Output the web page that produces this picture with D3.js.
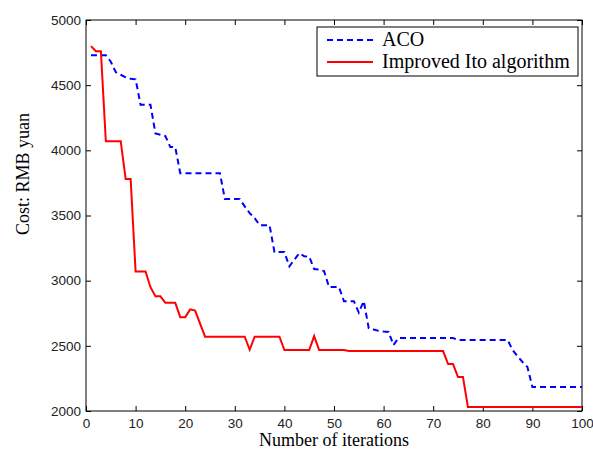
<!DOCTYPE html>
<html>
<head>
<meta charset="utf-8">
<script src="https://cdn.jsdelivr.net/npm/d3@7/dist/d3.min.js"></script>
<style>
  body { margin: 0; background: #fff; }
  .tick text { font-family: "Liberation Sans", Arial, sans-serif; font-size: 13.5px; fill: #222; }
  .tick line { stroke: #000; }
</style>
</head>
<body>
<div id="chart"></div>
<script>
"use strict";

// iterations 1..100
var iterations = d3.range(1, 101);

var acoCost = [
  4730, 4730, 4730, 4730, 4680, 4600, 4580, 4560, 4550, 4545,
  4350, 4350, 4350, 4130, 4120, 4110, 4025, 4025, 3825, 3825,
  3825, 3825, 3825, 3825, 3825, 3825, 3825, 3626, 3626, 3626,
  3626, 3570, 3518, 3480, 3426, 3426, 3426, 3219, 3219, 3219,
  3110, 3160, 3211, 3188, 3185, 3089, 3085, 3073, 2951, 2951,
  2951, 2843, 2843, 2843, 2755, 2843, 2636, 2625, 2615, 2610,
  2606, 2506, 2560, 2560, 2560, 2560, 2560, 2560, 2560, 2560,
  2560, 2560, 2560, 2560, 2545, 2545, 2545, 2545, 2545, 2545,
  2545, 2545, 2545, 2545, 2545, 2468, 2420, 2376, 2337, 2184,
  2184, 2184, 2184, 2184, 2184, 2184, 2184, 2184, 2184, 2184
];

var itoCost = [
  4800, 4760, 4760, 4070, 4070, 4070, 4070, 3780, 3780, 3070,
  3070, 3070, 2950, 2880, 2880, 2830, 2830, 2830, 2720, 2720,
  2780, 2770, 2670, 2570, 2570, 2570, 2570, 2570, 2570, 2570,
  2570, 2570, 2470, 2570, 2570, 2570, 2570, 2570, 2570, 2468,
  2468, 2468, 2468, 2468, 2468, 2575, 2468, 2468, 2468, 2468,
  2468, 2468, 2460, 2460, 2460, 2460, 2460, 2460, 2460, 2460,
  2460, 2460, 2460, 2460, 2460, 2460, 2460, 2460, 2460, 2460,
  2460, 2460, 2360, 2360, 2260, 2260, 2030, 2030, 2030, 2030,
  2030, 2030, 2030, 2030, 2030, 2030, 2030, 2030, 2030, 2030,
  2030, 2030, 2030, 2030, 2030, 2030, 2030, 2030, 2030, 2030
];

var xTicks = [0, 10, 20, 30, 40, 50, 60, 70, 80, 90, 100];
var yTicks = [2000, 2500, 3000, 3500, 4000, 4500, 5000];

var seriesNames = ["ACO", "Improved Ito algorithm"];

function drawChart() {
    var w = 593, h = 450;
    var left = 86, right = 582, top = 20, bottom = 411;

    var svg = d3.select("#chart")
                .append("svg")
                .attr("width", w)
                .attr("height", h);

    var x = d3.scaleLinear().domain([0, 100]).range([left, right]);
    var y = d3.scaleLinear().domain([2000, 5000]).range([bottom, top]);

    // axes, ticks pointing inward like matlab
    svg.append("g")
       .attr("transform", "translate(0," + bottom + ")")
       .call(d3.axisBottom(x).tickValues(xTicks).tickFormat(d3.format("d")).tickSize(-5).tickSizeOuter(0).tickPadding(7))
       .call(function(g){ g.select(".domain").remove(); });

    svg.append("g")
       .attr("transform", "translate(0," + top + ")")
       .call(d3.axisTop(x).tickValues(xTicks).tickSize(-5).tickSizeOuter(0).tickFormat(""))
       .call(function(g){ g.select(".domain").remove(); });

    svg.append("g")
       .attr("transform", "translate(" + left + ",0)")
       .call(d3.axisLeft(y).tickValues(yTicks).tickFormat(d3.format("d")).tickSize(-5).tickSizeOuter(0).tickPadding(5))
       .call(function(g){ g.select(".domain").remove(); });

    svg.append("g")
       .attr("transform", "translate(" + right + ",0)")
       .call(d3.axisRight(y).tickValues(yTicks).tickSize(-5).tickSizeOuter(0).tickFormat(""))
       .call(function(g){ g.select(".domain").remove(); });

    svg.append("rect")
       .attr("x", left)
       .attr("y", top)
       .attr("width", right - left)
       .attr("height", bottom - top)
       .attr("fill", "none")
       .attr("stroke", "#000")
       .attr("stroke-width", 1);

    var line = d3.line()
                 .x(function(d){ return x(d[0]); })
                 .y(function(d){ return y(d[1]); });

    svg.append("path")
       .datum(d3.zip(iterations, acoCost))
       .attr("d", line)
       .attr("fill", "none")
       .attr("stroke", "#0000ff")
       .attr("stroke-width", 2)
       .attr("stroke-dasharray", "6,4");

    svg.append("path")
       .datum(d3.zip(iterations, itoCost))
       .attr("d", line)
       .attr("fill", "none")
       .attr("stroke", "#ff0000")
       .attr("stroke-width", 2);

    // legend
    var lg = svg.append("g");
    lg.append("rect")
      .attr("x", 317).attr("y", 27)
      .attr("width", 261).attr("height", 49)
      .attr("fill", "#fff")
      .attr("stroke", "#000");

    var styles = [
        { color: "#0000ff", dash: "6,4" },
        { color: "#ff0000", dash: null }
    ];
    seriesNames.forEach(function(name, i){
        var ly = 40 + i * 22;
        lg.append("line")
          .attr("x1", 327).attr("x2", 373)
          .attr("y1", ly).attr("y2", ly)
          .attr("stroke", styles[i].color)
          .attr("stroke-width", 2)
          .attr("stroke-dasharray", styles[i].dash);
        lg.append("text")
          .attr("x", 382).attr("y", ly + 6)
          .attr("font-family", "'Liberation Serif', 'Times New Roman', serif")
          .attr("font-size", 20)
          .attr("fill", "#000")
          .text(name);
    });

    // axis titles
    svg.append("text")
       .attr("x", (left + right) / 2)
       .attr("y", 446)
       .attr("text-anchor", "middle")
       .attr("font-family", "'Liberation Serif', 'Times New Roman', serif")
       .attr("font-size", 18)
       .text("Number of iterations");

    svg.append("text")
       .attr("transform", "translate(29,174) rotate(-90)")
       .attr("text-anchor", "middle")
       .attr("font-family", "'Liberation Serif', 'Times New Roman', serif")
       .attr("font-size", 18)
       .text("Cost: RMB yuan");
}

window.onload = drawChart;
</script>
</body>
</html>
